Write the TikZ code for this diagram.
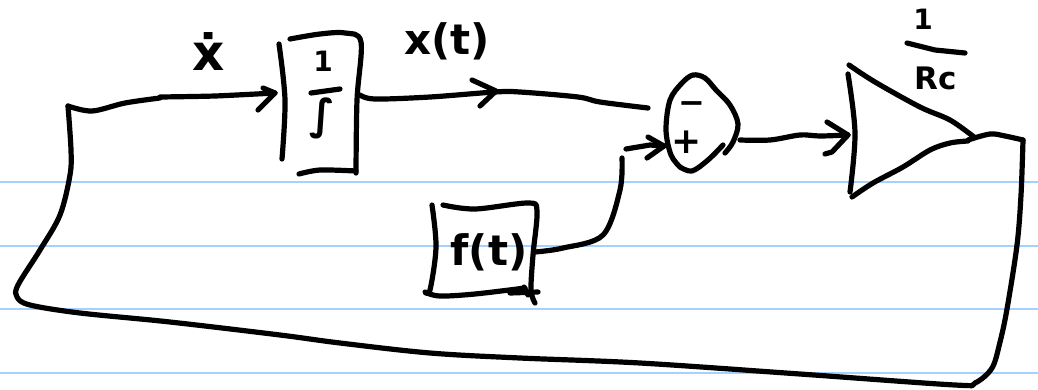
\documentclass[tikz,border=0pt]{standalone}
\usepackage{fontspec}
\setmainfont{DejaVu Sans}
\definecolor{ruleblue}{HTML}{A6D1FF}
\tikzset{
  ink/.style={draw=black,line width=5.2pt,line cap=round,line join=round},
  hand/.style={ink,smooth,tension=0.55},
  rulerline/.style={draw=ruleblue,line width=2pt},
  lab/.style={inner sep=0pt,outer sep=0pt,text=black,font=\bfseries\fontsize{#1}{#1}\selectfont},
}
\begin{document}
\begin{tikzpicture}[x=1pt,y=-1pt]
\useasboundingbox (0,0) rectangle (1038,389);
\fill[white] (0,0) rectangle (1038,389);
% ruled paper
\foreach \ry in {182,245.5,309,372.5} \draw[rulerline] (0,\ry) -- (1038,\ry);

% labels
\node[lab=50] (xdot) at (209,52) {ẋ};
\node[lab=42] (xt) at (447,41) {x(t)};
\node[lab=28] (intone) at (323,61) {1};
\node[lab=42] (intsym) at (322,118) {∫};
\node[lab=32] (summinus) at (692,108) {−};
\node[lab=36] (sumplus) at (687,142) {+};
\node[lab=42] (ftext) at (489,252) {f(t)};
\node[lab=28] (gainone) at (923,19) {1};
\node[lab=31] (gainrc) at (936,78) {Rc};

% anchors on the hand-drawn shapes
\coordinate (loopcorner) at (68,106);
\coordinate (intin) at (275,93);
\coordinate (intout) at (360,95);
\coordinate (suma) at (648,108);
\coordinate (sumb) at (664,146);
\coordinate (sumout) at (740,140);
\coordinate (gainin) at (848,135);
\coordinate (gainout) at (1023,140);
\coordinate (ftout) at (535,252);
\coordinate (ftend) at (622,158);
\coordinate (sumbstart) at (626,149);

% integrator box
\draw[hand] plot coordinates {(279,44) (285,100) (282,159)};
\draw[hand] plot coordinates {(290,39) (320,34) (345,33) (361,42) (357,100) (356,173)};
\draw[ink] plot[smooth,tension=.5] coordinates {(299,174) (320,170) (356,171)};
\draw[ink] (311,93) -- (340,89);

% f(t) box
\draw[hand] plot coordinates {(432,205) (436,247) (430,290) (425,292) (440,296) (475,294) (525,288)};
\draw[hand] plot coordinates {(443,205) (475,209) (528,203) (537,211) (533,255) (531,290) (535,303)};
\draw[ink] (510,293) -- (538,292);
\draw[ink] (524,287) -- (528,295);

% summing junction
\draw[hand] plot coordinates {(680,167) (671,155) (666,130) (670,100) (682,83) (693,75) (705,78) (716,90) (730,105) (738,124) (733,142) (725,153)};
\draw[hand] plot coordinates {(723,145) (708,160) (692,171) (680,167)};

% gain triangle
\draw[hand] plot coordinates {(848,74) (855,133) (850,192)};
\draw[hand] plot coordinates {(849,65) (875,82) (920,107) (950,120) (974,137)};
\draw[hand] plot coordinates {(852,197) (873,183) (903,167) (930,150) (950,143) (968,141)};
\draw[ink] (907,43) -- (935,50) -- (965,53);

% connectors
\draw[hand] plot coordinates {(gainout) (1005,136) (990,134) (968,140)};
\draw[hand] plot coordinates {(gainout) (1021,195) (1017,245) (1007,309) (1000,342) (992,368) (975,383) (955,385) (800,374) (640,363) (520,358) (430,353) (340,343) (280,335) (170,322) (80,313) (30,305) (17,297) (18,285) (40,250) (60,215) (70,175) (71,150) (loopcorner)};
\draw[hand] plot coordinates {(loopcorner) (92,111) (125,103) (160,98)};
\draw[ink] plot[smooth,tension=.4] coordinates {(160,97) (215,96) (intin)};
\draw[ink] (263,88) -- (intin) -- (258,110);
\draw[hand] plot coordinates {(intout) (375,99) (430,97) (495,92) (520,92) (578,97) (600,102) (suma)};
\draw[ink] (472,80) -- (496,91) -- (480,106);
\draw[hand] plot coordinates {(ftout) (563,248) (603,235) (620,190) (ftend)};
\draw[ink] (sumbstart) -- (650,145) -- (sumb);
\draw[ink] (648,137) -- (sumb) -- (647,158);
\draw[hand] plot coordinates {(sumout) (770,140) (800,135) (820,136) (gainin)};
\draw[ink] (827,122) -- (gainin) -- (832,152) -- (825,154);
\end{tikzpicture}
\end{document}
